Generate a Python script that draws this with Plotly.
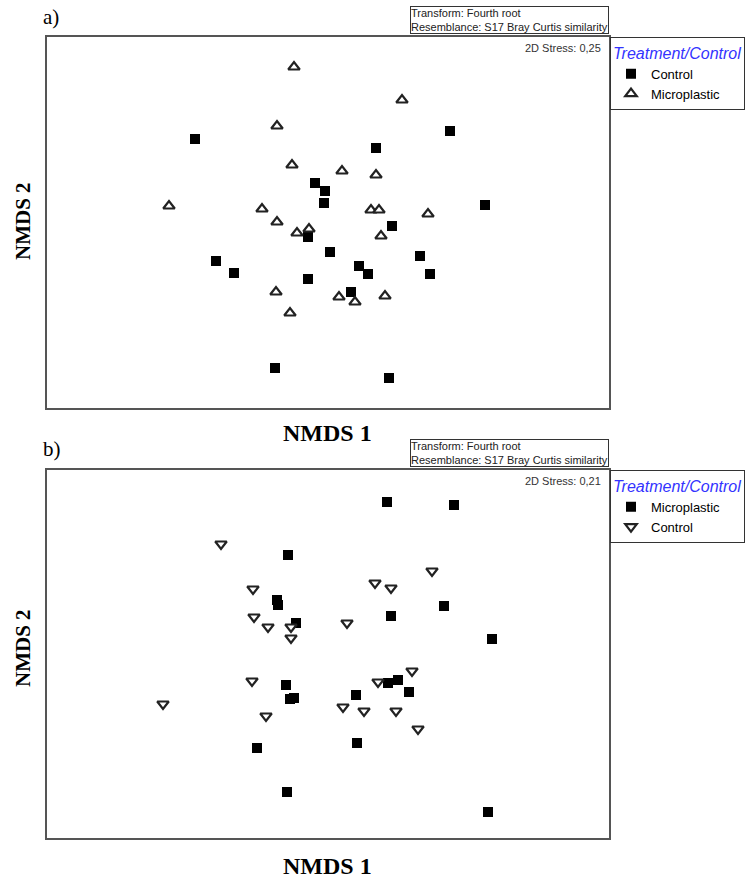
import plotly.graph_objects as go

# ---------------- Data (NMDS coordinates) ----------------
# Panel a)
a_control_x = [-1.32, 1.23, 0.49, -0.12, -0.02, -0.03, 1.58, 0.65, -0.19, -1.11,
               -0.93, 0.03, 0.93, 0.32, 0.41, 1.03, -0.19, 0.24, -0.52, 0.62]
a_control_y = [0.83, 0.91, 0.74, 0.39, 0.31, 0.19, 0.17, -0.04, -0.15, -0.39,
               -0.51, -0.30, -0.34, -0.44, -0.52, -0.52, -0.57, -0.70, -1.46, -1.56]
a_micro_x = [-0.33, 0.75, -0.50, -0.35, 0.15, 0.49, -1.58, -0.65, 0.44, 0.52,
             1.01, -0.50, -0.18, -0.30, 0.54, -0.51, -0.37, 0.12, 0.28, 0.58]
a_micro_y = [1.55, 1.22, 0.96, 0.57, 0.51, 0.47, 0.16, 0.13, 0.12, 0.12,
             0.08, 0.00, -0.07, -0.11, -0.14, -0.70, -0.91, -0.75, -0.80, -0.74]

# Panel b)
b_micro_x = [0.60, 1.27, -0.39, -0.50, -0.49, -0.31, 0.64, 1.17, 1.65, -0.41,
             -0.37, -0.33, -0.70, -0.40, 0.61, 0.71, 0.82, 0.29, 0.30, 1.61]
b_micro_y = [1.52, 1.49, 0.99, 0.54, 0.49, 0.31, 0.38, 0.48, 0.15, -0.31,
             -0.45, -0.44, -0.94, -1.38, -0.29, -0.26, -0.38, -0.41, -0.89, -1.58]
b_control_x = [-1.06, -0.74, -0.73, -0.59, -0.36, -0.36, 0.20, 0.48, 0.64, 1.05,
               -0.75, -1.64, -0.61, 0.85, 0.51, 0.16, 0.37, 0.69, 0.91]
b_control_y = [1.10, 0.65, 0.37, 0.27, 0.27, 0.16, 0.31, 0.71, 0.66, 0.83,
               -0.27, -0.50, -0.62, -0.17, -0.28, -0.53, -0.57, -0.57, -0.75]

stress_a = "0,25"
stress_b = "0,21"

W, H = 745, 883

def px(x):
    return x / W

def py(y):
    return 1 - y / H

fig = go.Figure()

sq = dict(symbol="square", size=10, color="black", line=dict(width=0))
tri_up = dict(symbol="triangle-up", size=10, color="white", line=dict(color="#222", width=2.2))
tri_dn = dict(symbol="triangle-down", size=10, color="white", line=dict(color="#222", width=2.2))

fig.add_trace(go.Scatter(x=a_control_x, y=a_control_y, mode="markers", name="Control",
                         marker=sq, xaxis="x", yaxis="y", legend="legend"))
fig.add_trace(go.Scatter(x=a_micro_x, y=a_micro_y, mode="markers", name="Microplastic",
                         marker=tri_up, xaxis="x", yaxis="y", legend="legend"))
fig.add_trace(go.Scatter(x=b_micro_x, y=b_micro_y, mode="markers", name="Microplastic",
                         marker=sq, xaxis="x2", yaxis="y2", legend="legend2"))
fig.add_trace(go.Scatter(x=b_control_x, y=b_control_y, mode="markers", name="Control",
                         marker=tri_dn, xaxis="x2", yaxis="y2", legend="legend2"))

axis_common = dict(showline=True, mirror=True, linecolor="#555", linewidth=2,
                   showgrid=False, zeroline=False, showticklabels=False, ticks="")

legend_common = dict(
    xanchor="left", yanchor="top",
    bordercolor="#333", borderwidth=1, bgcolor="white",
    font=dict(family="Liberation Sans, Arial", size=13, color="black"),
    title=dict(text="Treatment/Control",
               font=dict(family="Liberation Sans, Arial", size=16, color="#3333ff", style="italic")),
    tracegroupgap=0, itemwidth=30,
)

fig.update_layout(
    width=W, height=H,
    margin=dict(l=0, r=0, t=0, b=0, autoexpand=False),
    paper_bgcolor="white", plot_bgcolor="white",
    showlegend=True,
    xaxis=dict(domain=[px(47), px(609)], range=[-2.80, 2.82], anchor="y", **axis_common),
    yaxis=dict(domain=[py(408), py(37)], range=[-1.86, 1.85], anchor="x", **axis_common),
    xaxis2=dict(domain=[px(47), px(609)], range=[-2.80, 2.82], anchor="y2", **axis_common),
    yaxis2=dict(domain=[py(838), py(470)], range=[-1.84, 1.84], anchor="x2", **axis_common),
    legend=dict(x=px(610), y=py(37), **legend_common),
    legend2=dict(x=px(610), y=py(470), **legend_common),
)

serif = "Liberation Serif, Times New Roman"
sans = "Liberation Sans, Arial"
ann = []
for lab, yc in (("a)", 17), ("b)", 449)):
    ann.append(dict(text=lab, x=px(41), y=py(yc), xref="paper", yref="paper",
                    xanchor="left", yanchor="middle", showarrow=False,
                    font=dict(family=serif, size=21, color="black")))
for yc in (221, 648):
    ann.append(dict(text="<b>NMDS 2</b>", x=px(23), y=py(yc), xref="paper", yref="paper",
                    xanchor="center", yanchor="middle", textangle=-90, showarrow=False,
                    font=dict(family=serif, size=21, color="black")))
for yc in (433, 866):
    ann.append(dict(text="<b>NMDS 1</b>", x=px(327), y=py(yc), xref="paper", yref="paper",
                    xanchor="center", yanchor="middle", showarrow=False,
                    font=dict(family=serif, size=24, color="black")))
for ybot in (34, 467):
    ann.append(dict(text="Transform: Fourth root<br>Resemblance: S17 Bray Curtis similarity",
                    x=px(609), y=py(ybot), xref="paper", yref="paper",
                    xanchor="right", yanchor="bottom", align="left", showarrow=False,
                    bordercolor="#333", borderwidth=1, borderpad=0, bgcolor="white",
                    font=dict(family=sans, size=11, color="#222")))
for s, yc in ((stress_a, 48), (stress_b, 481)):
    ann.append(dict(text="2D Stress: " + s, x=px(603), y=py(yc), xref="paper", yref="paper",
                    xanchor="right", yanchor="middle", showarrow=False,
                    font=dict(family=sans, size=11, color="#333")))
fig.update_layout(annotations=ann)

fig.write_html("out.html", config={"displayModeBar": False},
               post_script="document.body.style.margin='0';document.body.style.overflow='hidden';")
